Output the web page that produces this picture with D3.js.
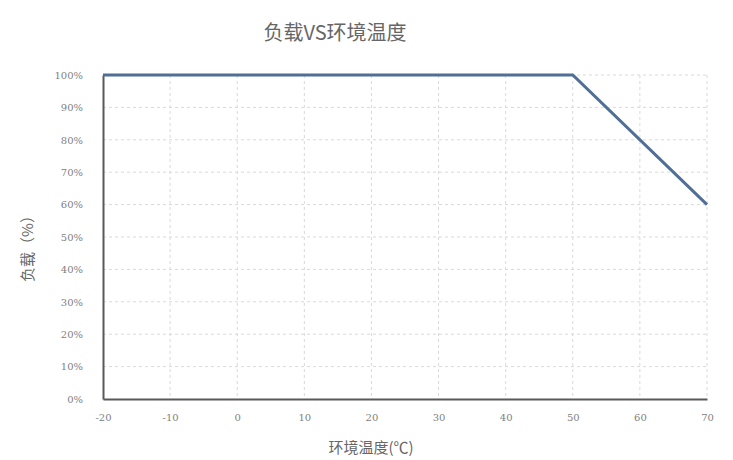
<!DOCTYPE html>
<html>
<head>
<meta charset="utf-8">
<script src="https://cdn.jsdelivr.net/npm/d3@7"></script>
<style>
  body { margin: 0; background: #fff; }
  .grid line { stroke: #d9d9d9; stroke-dasharray: 3,3; }
  .axis text { fill: #7f7f7f; font-size: 10px; font-family: "DejaVu Serif", serif; }
</style>
</head>
<body>
<div id="chart"></div>
<script>
var temps = [-20, 50, 70];
var loads = [100, 100, 60];
var xTicks = [-20, -10, 0, 10, 20, 30, 40, 50, 60, 70];
var yTicks = [0, 10, 20, 30, 40, 50, 60, 70, 80, 90, 100];

var margin = {top: 75, right: 26, bottom: 61, left: 103},
    width = 733 - margin.left - margin.right,
    height = 460 - margin.top - margin.bottom;

var svg = d3.select("#chart").append("svg")
    .attr("width", 733)
    .attr("height", 460);

var canvas = svg.append("g")
    .attr("transform", "translate(" + margin.left + "," + margin.top + ")");

var xScale = d3.scaleLinear().domain([-20, 70]).range([0, width]);
var yScale = d3.scaleLinear().domain([0, 100]).range([height, 0]);

// grid lines
canvas.append("g").attr("class", "grid")
    .selectAll("line").data(yTicks.slice(1)).enter().append("line")
    .attr("x1", 0).attr("x2", width)
    .attr("y1", function (d) { return yScale(d); })
    .attr("y2", function (d) { return yScale(d); });

canvas.append("g").attr("class", "grid")
    .selectAll("line").data(xTicks.slice(1)).enter().append("line")
    .attr("y1", 0).attr("y2", height)
    .attr("x1", function (d) { return xScale(d); })
    .attr("x2", function (d) { return xScale(d); });

// axes
var xAxis = d3.axisBottom(xScale).tickValues(xTicks).tickSize(0).tickPadding(15)
    .tickFormat(function (d) { return String(d); });
var yAxis = d3.axisLeft(yScale).tickValues(yTicks).tickSize(0).tickPadding(20)
    .tickFormat(function (d) { return d + "%"; });

var gx = canvas.append("g").attr("class", "axis")
    .attr("transform", "translate(0," + height + ")")
    .call(xAxis);
gx.select(".domain").attr("stroke", "#595959").attr("stroke-width", 2);

var gy = canvas.append("g").attr("class", "axis").call(yAxis);
gy.select(".domain").attr("stroke", "#595959").attr("stroke-width", 2);

// data line
var line = d3.line()
    .x(function (d, i) { return xScale(temps[i]); })
    .y(function (d) { return yScale(d); });

canvas.append("path")
    .datum(loads)
    .attr("fill", "none")
    .attr("stroke", "#4f6f96")
    .attr("stroke-width", 3)
    .attr("d", line);

// titles
svg.append("text")
    .attr("x", 335).attr("y", 40)
    .attr("text-anchor", "middle")
    .style("font-family", "Noto Sans CJK SC")
    .style("font-size", "20px")
    .style("fill", "#666")
    .text("负载VS环境温度");

svg.append("text")
    .attr("x", 371).attr("y", 453)
    .attr("text-anchor", "middle")
    .style("font-family", "Noto Sans CJK SC")
    .style("font-size", "15px")
    .style("fill", "#666")
    .text("环境温度(℃)");

svg.append("text")
    .attr("transform", "translate(33,245) rotate(-90)")
    .attr("text-anchor", "middle")
    .style("font-family", "Noto Sans CJK SC")
    .style("font-size", "15px")
    .style("fill", "#666")
    .text("负载（%）");
</script>
</body>
</html>
